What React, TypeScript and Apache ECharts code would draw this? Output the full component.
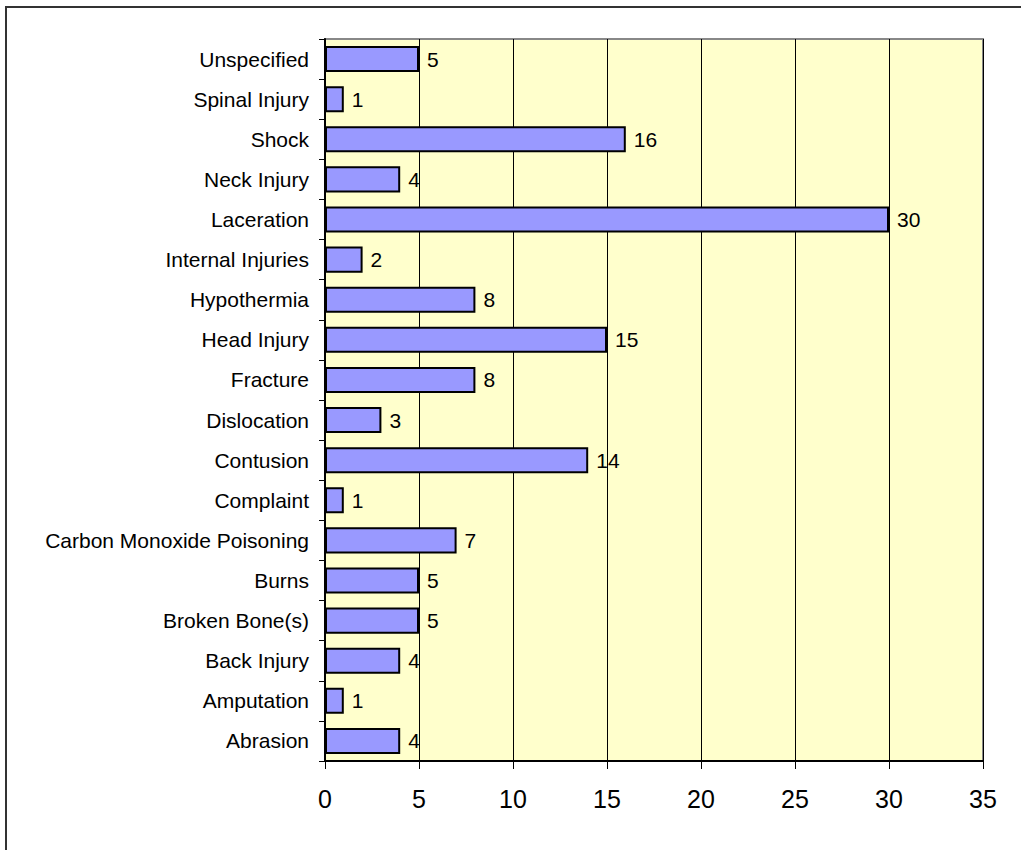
import React, { useEffect, useRef } from "react";
import * as echarts from "echarts";

const categories = [
  "Abrasion",
  "Amputation",
  "Back Injury",
  "Broken Bone(s)",
  "Burns",
  "Carbon Monoxide Poisoning",
  "Complaint",
  "Contusion",
  "Dislocation",
  "Fracture",
  "Head Injury",
  "Hypothermia",
  "Internal Injuries",
  "Laceration",
  "Neck Injury",
  "Shock",
  "Spinal Injury",
  "Unspecified",
];
const values = [4, 1, 4, 5, 5, 7, 1, 14, 3, 8, 15, 8, 2, 30, 4, 16, 1, 5];
const xMin = 0;
const xMax = 35;
const xInterval = 5;

export default function App() {
  const ref = useRef<HTMLDivElement>(null);
  useEffect(() => {
    if (!ref.current) return;
    const chart = echarts.init(ref.current, null, { renderer: "svg" });
    const font = "Arial, 'Liberation Sans', sans-serif";
    chart.setOption({
      animation: false,
      backgroundColor: "#ffffff",
      textStyle: { fontFamily: font },
      graphic: [
        {
          type: "rect",
          shape: { x: 6, y: 7, width: 1100, height: 900 },
          style: { fill: "none", stroke: "#333333", lineWidth: 2 },
          silent: true,
          z: 100,
        },
      ],
      grid: {
        left: 325,
        right: 38,
        top: 39,
        bottom: 89,
        show: true,
        backgroundColor: "#FFFFCC",
        borderColor: "#888888",
        borderWidth: 2,
      },
      xAxis: {
        type: "value",
        min: xMin,
        max: xMax,
        interval: xInterval,
        axisLine: { show: true, lineStyle: { color: "#000", width: 2 } },
        axisTick: { show: true, length: 8, lineStyle: { color: "#000" } },
        axisLabel: { fontSize: 25, color: "#000", margin: 25, fontFamily: font },
        splitLine: { show: true, lineStyle: { color: "#000", width: 1 } },
      },
      yAxis: {
        type: "category",
        data: categories,
        axisLine: { show: true, lineStyle: { color: "#000", width: 2 } },
        axisTick: { show: true, length: 6, alignWithLabel: false, lineStyle: { color: "#000" } },
        axisLabel: { fontSize: 21, color: "#000", margin: 16, fontFamily: font },
        splitLine: { show: false },
      },
      series: [
        {
          type: "bar",
          data: values,
          barCategoryGap: "35%",
          itemStyle: { color: "#9999FF", borderColor: "#000", borderWidth: 2 },
          label: {
            show: true,
            position: "right",
            distance: 8,
            fontSize: 21,
            color: "#000",
            fontFamily: font,
          },
        },
      ],
    });
    return () => chart.dispose();
  }, []);
  return (
    <div
      ref={ref}
      style={{ position: "fixed", left: 0, top: 0, width: 1021, height: 850 }}
    />
  );
}
